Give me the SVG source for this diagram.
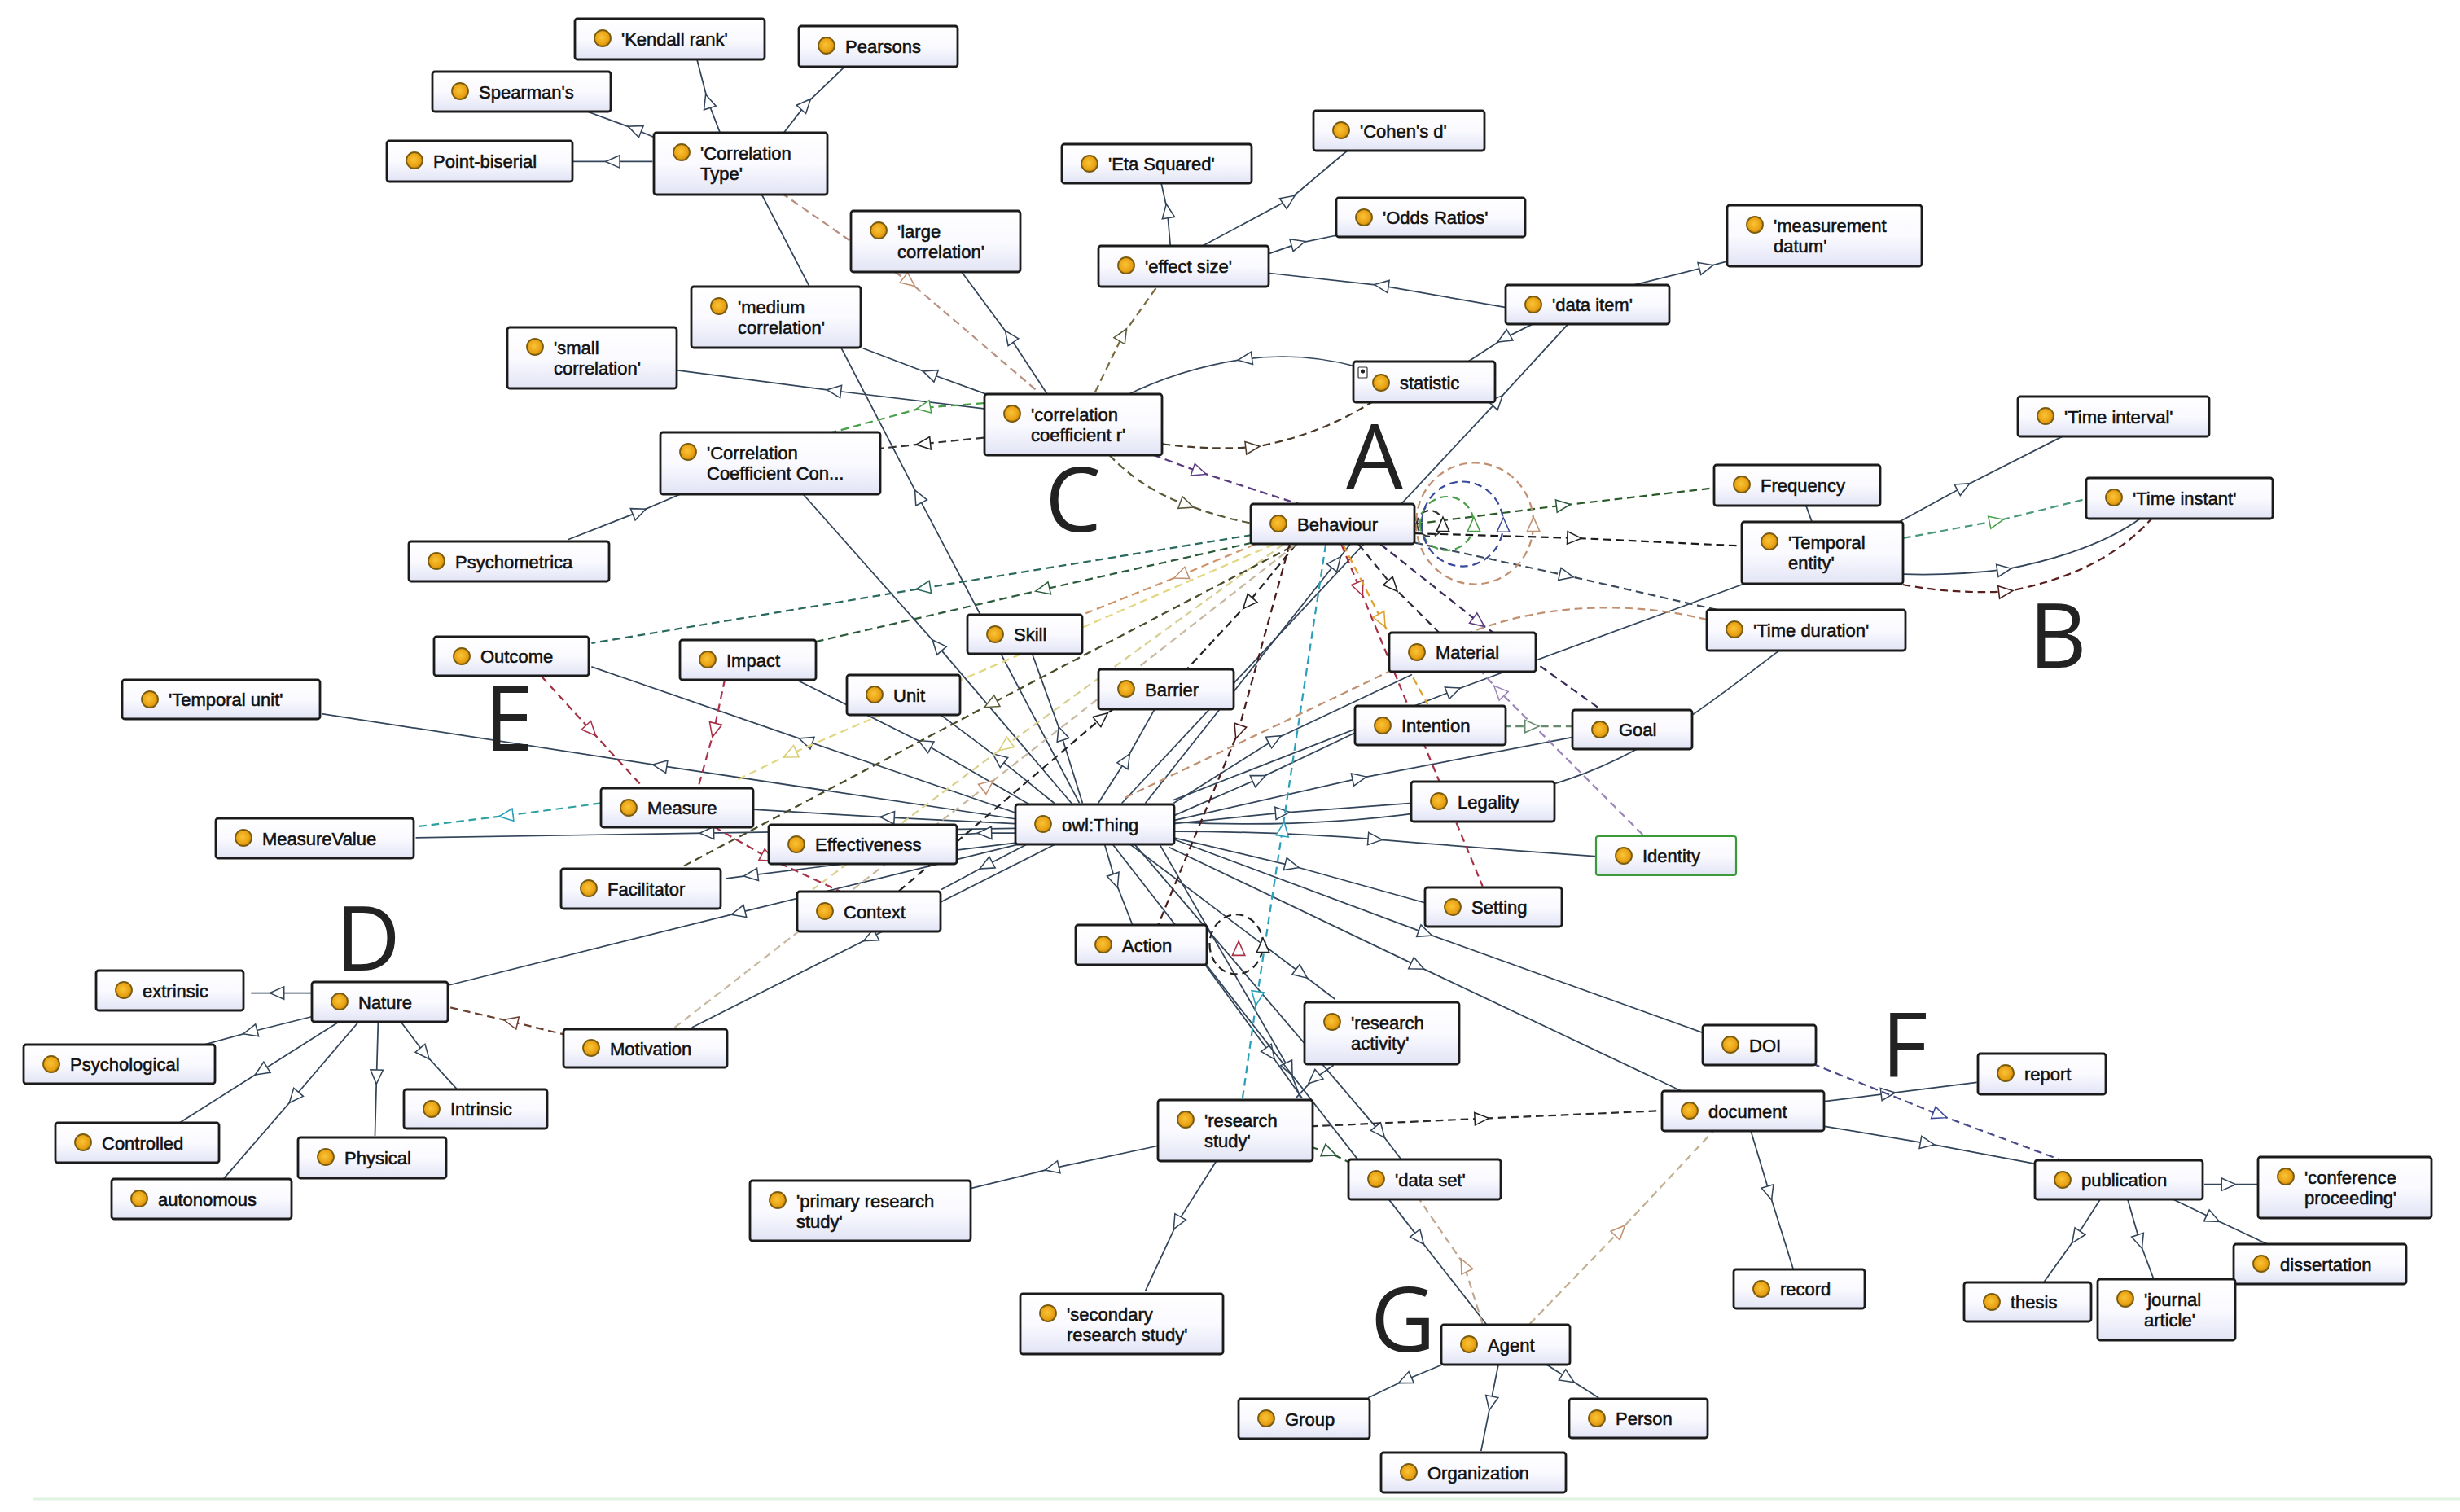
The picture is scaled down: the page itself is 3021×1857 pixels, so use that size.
<svg xmlns="http://www.w3.org/2000/svg" width="3021" height="1857" viewBox="0 0 3021 1857">
<defs>
<linearGradient id="bg" x1="0" y1="0" x2="0" y2="1"><stop offset="0" stop-color="#ffffff"/><stop offset="0.5" stop-color="#fafaff"/><stop offset="1" stop-color="#e2e4f5"/></linearGradient>
<radialGradient id="dot" cx="0.45" cy="0.45" r="0.6"><stop offset="0" stop-color="#f9c436"/><stop offset="0.7" stop-color="#e8a012"/><stop offset="1" stop-color="#b07a08"/></radialGradient>
<marker id="a-s" markerUnits="userSpaceOnUse" markerWidth="12" markerHeight="12" refX="5" refY="4" orient="auto" overflow="visible"><path d="M0,0 L9,4 L0,8 Z" fill="#fff" stroke="#33455a" stroke-width="0.8"/></marker>
<marker id="a-k" markerUnits="userSpaceOnUse" markerWidth="12" markerHeight="12" refX="5" refY="4" orient="auto" overflow="visible"><path d="M0,0 L9,4 L0,8 Z" fill="#fff" stroke="#222" stroke-width="0.8"/></marker>
<marker id="a-g" markerUnits="userSpaceOnUse" markerWidth="12" markerHeight="12" refX="5" refY="4" orient="auto" overflow="visible"><path d="M0,0 L9,4 L0,8 Z" fill="#fff" stroke="#2a5a3a" stroke-width="0.8"/></marker>
<marker id="a-t" markerUnits="userSpaceOnUse" markerWidth="12" markerHeight="12" refX="5" refY="4" orient="auto" overflow="visible"><path d="M0,0 L9,4 L0,8 Z" fill="#fff" stroke="#2a6a5e" stroke-width="0.8"/></marker>
<marker id="a-p" markerUnits="userSpaceOnUse" markerWidth="12" markerHeight="12" refX="5" refY="4" orient="auto" overflow="visible"><path d="M0,0 L9,4 L0,8 Z" fill="#fff" stroke="#5a3a80" stroke-width="0.8"/></marker>
<marker id="a-lp" markerUnits="userSpaceOnUse" markerWidth="12" markerHeight="12" refX="5" refY="4" orient="auto" overflow="visible"><path d="M0,0 L9,4 L0,8 Z" fill="#fff" stroke="#9a86b8" stroke-width="0.8"/></marker>
<marker id="a-b" markerUnits="userSpaceOnUse" markerWidth="12" markerHeight="12" refX="5" refY="4" orient="auto" overflow="visible"><path d="M0,0 L9,4 L0,8 Z" fill="#fff" stroke="#4a3a2a" stroke-width="0.8"/></marker>
<marker id="a-br" markerUnits="userSpaceOnUse" markerWidth="12" markerHeight="12" refX="5" refY="4" orient="auto" overflow="visible"><path d="M0,0 L9,4 L0,8 Z" fill="#fff" stroke="#6a4030" stroke-width="0.8"/></marker>
<marker id="a-tan" markerUnits="userSpaceOnUse" markerWidth="12" markerHeight="12" refX="5" refY="4" orient="auto" overflow="visible"><path d="M0,0 L9,4 L0,8 Z" fill="#fff" stroke="#c09070" stroke-width="0.8"/></marker>
<marker id="a-o" markerUnits="userSpaceOnUse" markerWidth="12" markerHeight="12" refX="5" refY="4" orient="auto" overflow="visible"><path d="M0,0 L9,4 L0,8 Z" fill="#fff" stroke="#e0a030" stroke-width="0.8"/></marker>
<marker id="a-r" markerUnits="userSpaceOnUse" markerWidth="12" markerHeight="12" refX="5" refY="4" orient="auto" overflow="visible"><path d="M0,0 L9,4 L0,8 Z" fill="#fff" stroke="#a83048" stroke-width="0.8"/></marker>
<marker id="a-y" markerUnits="userSpaceOnUse" markerWidth="12" markerHeight="12" refX="5" refY="4" orient="auto" overflow="visible"><path d="M0,0 L9,4 L0,8 Z" fill="#fff" stroke="#d8cc70" stroke-width="0.8"/></marker>
<marker id="a-c" markerUnits="userSpaceOnUse" markerWidth="12" markerHeight="12" refX="5" refY="4" orient="auto" overflow="visible"><path d="M0,0 L9,4 L0,8 Z" fill="#fff" stroke="#2aa0b8" stroke-width="0.8"/></marker>
<marker id="a-ol" markerUnits="userSpaceOnUse" markerWidth="12" markerHeight="12" refX="5" refY="4" orient="auto" overflow="visible"><path d="M0,0 L9,4 L0,8 Z" fill="#fff" stroke="#5a5a38" stroke-width="0.8"/></marker>
<marker id="a-gr" markerUnits="userSpaceOnUse" markerWidth="12" markerHeight="12" refX="5" refY="4" orient="auto" overflow="visible"><path d="M0,0 L9,4 L0,8 Z" fill="#fff" stroke="#4aa04a" stroke-width="0.8"/></marker>
<marker id="a-bl" markerUnits="userSpaceOnUse" markerWidth="12" markerHeight="12" refX="5" refY="4" orient="auto" overflow="visible"><path d="M0,0 L9,4 L0,8 Z" fill="#fff" stroke="#3a4a9a" stroke-width="0.8"/></marker>
<marker id="a-dr" markerUnits="userSpaceOnUse" markerWidth="12" markerHeight="12" refX="5" refY="4" orient="auto" overflow="visible"><path d="M0,0 L9,4 L0,8 Z" fill="#fff" stroke="#4a1c1c" stroke-width="0.8"/></marker>
<marker id="a-gg" markerUnits="userSpaceOnUse" markerWidth="12" markerHeight="12" refX="5" refY="4" orient="auto" overflow="visible"><path d="M0,0 L9,4 L0,8 Z" fill="#fff" stroke="#6a8a70" stroke-width="0.8"/></marker>
</defs>
<style>
.node rect{fill:url(#bg);stroke:#1b1b1b;stroke-width:2.8}
.node circle{fill:url(#dot);stroke:#7a5c10;stroke-width:1.8}
.node text{font-family:"Liberation Sans",Arial,sans-serif;font-size:22px;fill:#111;stroke:#111;stroke-width:0.55}
.s{fill:none;stroke:#33455a;stroke-width:0.9;marker-mid:url(#a-s)}
.s0{fill:none;stroke:#33455a;stroke-width:0.9}
.d{fill:none;stroke-width:1.15;stroke-dasharray:5 3}
.mk{fill:none;stroke:none}
.letter{font-family:"Open Sans","DejaVu Sans",sans-serif;font-size:110px;fill:#222;text-anchor:middle}
</style>
<rect width="3021" height="1857" fill="#ffffff"/>
<line x1="40" y1="1841" x2="3021" y2="1841" stroke="#e0f3e0" stroke-width="3"/>

<g id="connectors" transform="scale(1.9267)">
<path class="s" d="M461 90 L451 64 L444 37"/>
<path class="s" d="M497 88 L514 66 L540 41"/>
<path class="s" d="M418 88 L404 82 L374 71"/>
<path class="s" d="M416 103 L390 103 L364 103"/>
<path class="s" d="M688 512 L585 316 L485 123"/>
<path class="s" d="M683 512 L597 411 L511 314"/>
<path class="s" d="M628 251 L592 238 L550 222"/>
<path class="s" d="M640 262 L531 249 L431 236"/>
<path class="s" d="M668 252 L643 214 L612 172"/>
<path class="s" d="M866 234 Q830 224 793 229 Q752 235 716 253"/>
<path class="s" d="M730 512 L852 358 L862 345"/>
<path class="s" d="M715 512 L955 255 L1000 206"/>
<path class="s" d="M748 512 L813 471 L900 430"/>
<path class="s" d="M748 520 L803 496 L864 467"/>
<path class="s" d="M748 523 L867 496 L1002 470"/>
<path class="s" d="M748 510 L927 440 L1112 372"/>
<path class="s" d="M748 525 L818 518 L900 512"/>
<path class="s" d="M748 530 Q812 530 877 535 Q948 541 1018 546"/>
<path class="s" d="M748 534 L824 552 L910 576"/>
<path class="s" d="M700 512 L718 484 L736 452"/>
<path class="s" d="M690 512 L676 467 L658 417"/>
<path class="s" d="M672 512 L636 483 L600 456"/>
<path class="s" d="M660 515 L589 474 L509 434"/>
<path class="s" d="M647 518 L513 472 L377 425"/>
<path class="s" d="M647 522 L420 488 L205 455"/>
<path class="s" d="M647 525 L565 521 L480 516"/>
<path class="s" d="M647 528 L450 531 L265 534"/>
<path class="s" d="M650 531 L627 531 L610 532"/>
<path class="s" d="M650 537 L478 558 L463 560"/>
<path class="s" d="M655 538 L628 552 L600 567"/>
<path class="s" d="M650 538 L470 582 L286 628"/>
<path class="s" d="M673 538 L554 598 L441 655"/>
<path class="s" d="M704 538 L711 562 L722 590"/>
<path class="s" d="M720 538 L830 621 L851 637"/>
<path class="s" d="M739 538 L822 682 L829 700"/>
<path class="s" d="M766 612 L810 672 L830 700"/>
<path class="s" d="M850 679 L837 688 L826 700"/>
<path class="s" d="M723 538 L880 722 L893 739"/>
<path class="s" d="M709 538 L905 790 L948 845"/>
<path class="s" d="M748 535 L909 595 L1090 660"/>
<path class="s" d="M745 540 L904 616 L1075 697"/>
<path class="s" d="M740 730 L670 745 L617 758"/>
<path class="s" d="M776 739 L750 780 L730 823"/>
<path class="s" d="M746 157 L744 134 L740 116"/>
<path class="s" d="M766 157 L822 127 L860 95"/>
<path class="s" d="M808 162 L828 155 L852 150"/>
<path class="s" d="M960 196 L880 182 L808 174"/>
<path class="s" d="M1040 182 L1088 170 L1103 166"/>
<path class="s" d="M978 206 L958 216 L935 231"/>
<path class="s" d="M1210 333 L1252 310 L1315 278"/>
<path class="s" d="M1213 366 Q1245 367 1278 363 Q1335 352 1365 330"/>
<path class="s0" d="M1155 333 L1151 322"/>
<path class="s" d="M199 633 L176 633 L160 633"/>
<path class="s" d="M199 648 L159 658 L130 666"/>
<path class="s" d="M215 652 L166 683 L114 716"/>
<path class="s" d="M228 652 L187 700 L142 752"/>
<path class="s" d="M241 652 L240 687 L239 724"/>
<path class="s" d="M256 652 L271 672 L291 694"/>
<path class="s" d="M1163 702 L1204 697 L1260 690"/>
<path class="s" d="M1163 718 L1229 729 L1298 742"/>
<path class="s" d="M1116 721 L1128 761 L1143 809"/>
<path class="s" d="M1405 755 L1421 755 L1440 755"/>
<path class="s" d="M1339 764 L1323 789 L1303 817"/>
<path class="s" d="M1356 764 L1364 792 L1373 816"/>
<path class="s" d="M1384 764 L1411 777 L1445 793"/>
<path class="s" d="M919 870 L895 880 L872 891"/>
<path class="s" d="M955 870 L950 895 L944 925"/>
<path class="s" d="M986 870 L1000 879 L1019 891"/>
<path class="s" d="M362 344 L408 326 L436 314"/>
<path class="s0" d="M748 524 C870 530 960 512 1010 493 S1100 440 1135 414"/>
<path class="d" stroke="#b89080" marker-mid="url(#a-tan)" d="M498 123 L580 180 L662 250"/>
<path class="d" stroke="#7a6a40" marker-mid="url(#a-ol)" d="M698 250 L716 213 L738 182"/>
<path class="d" stroke="#4a3a2a" marker-mid="url(#a-b)" d="M741 283 Q770 287 799 285 Q840 278 875 256"/>
<path class="d" stroke="#5a3a80" marker-mid="url(#a-p)" d="M735 290 L765 301 L830 322"/>
<path class="d" stroke="#5a5a38" marker-mid="url(#a-ol)" d="M707 290 Q728 312 757 322 Q778 330 800 334"/>
<path class="d" stroke="#333333" marker-mid="url(#a-k)" d="M627 279 L588 283 L560 286"/>
<path class="d" stroke="#4aa04a" marker-mid="url(#a-gr)" d="M627 257 L588 260 L529 276"/>
<path class="d" stroke="#2a6a5e" marker-mid="url(#a-t)" d="M798 341 L588 375 L377 410"/>
<path class="d" stroke="#2a5a3a" marker-mid="url(#a-g)" d="M798 346 L664 376 L520 409"/>
<path class="d" stroke="#d0946a" marker-mid="url(#a-tan)" d="M800 347 L752 367 L692 391"/>
<path class="d" stroke="#e2d680" marker-mid="url(#a-y)" d="M812 347 L503 481 L470 497"/>
<path class="d" stroke="#d8d090" marker-mid="url(#a-y)" d="M818 347 L640 476 L518 567"/>
<path class="d" stroke="#4a4a28" marker-mid="url(#a-ol)" d="M830 345 L631 449 L434 553"/>
<path class="d" stroke="#222222" marker-mid="url(#a-k)" d="M573 568 L703 457 L712 450"/>
<path class="d" stroke="#222222" marker-mid="url(#a-k)" d="M826 347 L795 385 L757 426"/>
<path class="d" stroke="#4a1c1c" marker-mid="url(#a-dr)" d="M822 347 L789 467 L738 590"/>
<path class="d" stroke="#c8b8a0" marker-mid="url(#a-tan)" d="M430 655 L630 500 L826 347"/>
<path class="d" stroke="#2aa0b8" marker-mid="url(#a-c)" d="M845 347 L801 637 L792 700"/>
<path class="mk" marker-mid="url(#a-c)" d="M792 700 L818 528 L845 347"/>
<path class="d" stroke="#a83048" marker-mid="url(#a-r)" d="M855 347 L867 376 L945 565"/>
<path class="d" stroke="#e0a030" marker-mid="url(#a-o)" d="M856 347 L881 396 L910 449"/>
<path class="d" stroke="#2a2a3a" marker-mid="url(#a-k)" d="M866 347 L888 374 L917 403"/>
<path class="d" stroke="#3a2a5a" marker-mid="url(#a-p)" d="M880 347 L943 397 L1020 452"/>
<path class="d" stroke="#9a86b8" marker-mid="url(#a-lp)" d="M1047 532 L955 440 L945 429"/>
<path class="d" stroke="#6a8a70" marker-mid="url(#a-gg)" d="M958 463 L977 463 L1002 463"/>
<path class="d" stroke="#2a5a2a" marker-mid="url(#a-g)" d="M902 334 L997 322 L1093 311"/>
<path class="d" stroke="#1a1a1a" marker-mid="url(#a-k)" d="M902 340 L1004 343 L1110 348"/>
<path class="d" stroke="#3a4a5a" marker-mid="url(#a-s)" d="M902 346 L999 367 L1100 390"/>
<path class="d" stroke="#4a9a7a" marker-mid="url(#a-gr)" d="M1213 343 L1273 332 L1330 318"/>
<path class="d" stroke="#5a2020" marker-mid="url(#a-dr)" d="M1205 371 Q1240 379 1279 377 Q1340 366 1372 330"/>
<path class="d" stroke="#c09070" d="M1088 395 C1040 383 985 385 940 402 L716 509"/>
<path class="d" stroke="#a03040" marker-mid="url(#a-r)" d="M345 431 L377 466 L410 502"/>
<path class="d" stroke="#b03050" marker-mid="url(#a-r)" d="M462 433 L455 466 L445 502"/>
<path class="d" stroke="#2aa0a0" marker-mid="url(#a-c)" d="M383 512 L322 520 L265 527"/>
<path class="d" stroke="#a83048" marker-mid="url(#a-r)" d="M455 527 L490 547 L535 568"/>
<path class="d" stroke="#6a4030" marker-mid="url(#a-br)" d="M362 660 L325 651 L286 642"/>
<path class="d" stroke="#2a2a2a" marker-mid="url(#a-k)" d="M835 718 L945 713 L1059 708"/>
<path class="d" stroke="#2a5a2a" marker-mid="url(#a-g)" d="M835 731 L848 735 L862 742"/>
<path class="d" stroke="#4a4a8a" marker-mid="url(#a-bl)" d="M1155 678 L1237 711 L1315 740"/>
<path class="d" stroke="#c0b090" marker-mid="url(#a-tan)" d="M975 844 L1033 784 L1092 721"/>
<path class="d" stroke="#c0a890" marker-mid="url(#a-tan)" d="M945 844 L933 806 L905 765"/>
<path class="d" stroke="#333333" marker-mid="url(#a-k)" d="M903.1 333.7 A8.3 8.3 0 0 0 919.7 333.7 A8.3 8.3 0 0 0 903.1 333.7"/>
<path class="d" stroke="#4aa04a" marker-mid="url(#a-gr)" d="M905.2 333.7 A17.1 17.1 0 0 0 939.4 333.7 A17.1 17.1 0 0 0 905.2 333.7"/>
<path class="d" stroke="#3a4a9a" marker-mid="url(#a-bl)" d="M906.2 334 A26 27 0 0 0 958.2 334 A26 27 0 0 0 906.2 334"/>
<path class="d" stroke="#c09070" marker-mid="url(#a-tan)" d="M902.6 333.7 A37.4 38.7 0 0 0 977.4 333.7 A37.4 38.7 0 0 0 902.6 333.7"/>
<path class="d" stroke="#222222" marker-mid="url(#a-k)" d="M771 602 A17 19 0 0 0 805 602 A17 19 0 0 0 771 602"/>
<path class="mk" marker-mid="url(#a-r)" d="M789.5 612 L789.5 604 L789.5 596"/>
</g>

<g id="nodes">
<g id="n-kendall" class="node" transform="translate(706,23)"><rect width="233" height="50" rx="3"/><circle cx="34" cy="24" r="10"/><text x="57" y="33">'Kendall rank'</text></g>
<g id="n-pearsons" class="node" transform="translate(981,32)"><rect width="195" height="50" rx="3"/><circle cx="34" cy="24" r="10"/><text x="57" y="33">Pearsons</text></g>
<g id="n-spearman" class="node" transform="translate(531,88)"><rect width="219" height="49" rx="3"/><circle cx="34" cy="24" r="10"/><text x="57" y="33">Spearman's</text></g>
<g id="n-pointbiserial" class="node" transform="translate(475,173)"><rect width="228" height="50" rx="3"/><circle cx="34" cy="24" r="10"/><text x="57" y="33">Point-biserial</text></g>
<g id="n-corrtype" class="node" transform="translate(803,163)"><rect width="213" height="76" rx="3"/><circle cx="34" cy="24" r="10"/><text x="57" y="33">'Correlation<tspan x="57" dy="25">Type'</tspan></text></g>
<g id="n-large" class="node" transform="translate(1045,259)"><rect width="208" height="75" rx="3"/><circle cx="34" cy="24" r="10"/><text x="57" y="33">'large<tspan x="57" dy="25">correlation'</tspan></text></g>
<g id="n-medium" class="node" transform="translate(849,352)"><rect width="208" height="75" rx="3"/><circle cx="34" cy="24" r="10"/><text x="57" y="33">'medium<tspan x="57" dy="25">correlation'</tspan></text></g>
<g id="n-small" class="node" transform="translate(623,402)"><rect width="208" height="75" rx="3"/><circle cx="34" cy="24" r="10"/><text x="57" y="33">'small<tspan x="57" dy="25">correlation'</tspan></text></g>
<g id="n-eta" class="node" transform="translate(1304,177)"><rect width="233" height="48" rx="3"/><circle cx="34" cy="24" r="10"/><text x="57" y="32">'Eta Squared'</text></g>
<g id="n-cohen" class="node" transform="translate(1613,136)"><rect width="210" height="49" rx="3"/><circle cx="34" cy="24" r="10"/><text x="57" y="33">'Cohen's d'</text></g>
<g id="n-odds" class="node" transform="translate(1641,243)"><rect width="232" height="48" rx="3"/><circle cx="34" cy="24" r="10"/><text x="57" y="32">'Odds Ratios'</text></g>
<g id="n-effect" class="node" transform="translate(1349,302)"><rect width="209" height="50" rx="3"/><circle cx="34" cy="24" r="10"/><text x="57" y="33">'effect size'</text></g>
<g id="n-measdatum" class="node" transform="translate(2121,252)"><rect width="239" height="75" rx="3"/><circle cx="34" cy="24" r="10"/><text x="57" y="33">'measurement<tspan x="57" dy="25">datum'</tspan></text></g>
<g id="n-dataitem" class="node" transform="translate(1849,350)"><rect width="201" height="48" rx="3"/><circle cx="34" cy="24" r="10"/><text x="57" y="32">'data item'</text></g>
<g id="n-statistic" class="node" transform="translate(1662,444)"><rect width="174" height="50" rx="3"/><rect x="6" y="7" width="11" height="13" rx="1" style="fill:#fff;stroke:#333;stroke-width:1.2"/><circle cx="11.5" cy="12" r="2.6" style="fill:#222;stroke:none"/><circle cx="34" cy="26" r="10"/><text x="57" y="34">statistic</text></g>
<g id="n-corrcoef" class="node" transform="translate(1209,484)"><rect width="218" height="75" rx="3"/><circle cx="34" cy="24" r="10"/><text x="57" y="33">'correlation<tspan x="57" dy="25">coefficient r'</tspan></text></g>
<g id="n-corrcon" class="node" transform="translate(811,531)"><rect width="270" height="76" rx="3"/><circle cx="34" cy="24" r="10"/><text x="57" y="33">'Correlation<tspan x="57" dy="25">Coefficient Con...</tspan></text></g>
<g id="n-psychometrica" class="node" transform="translate(502,665)"><rect width="246" height="49" rx="3"/><circle cx="34" cy="24" r="10"/><text x="57" y="33">Psychometrica</text></g>
<g id="n-behaviour" class="node" transform="translate(1536,619)"><rect width="201" height="49" rx="3"/><circle cx="34" cy="24" r="10"/><text x="57" y="33">Behaviour</text></g>
<g id="n-timeinterval" class="node" transform="translate(2478,487)"><rect width="235" height="49" rx="3"/><circle cx="34" cy="24" r="10"/><text x="57" y="33">'Time interval'</text></g>
<g id="n-frequency" class="node" transform="translate(2105,571)"><rect width="204" height="50" rx="3"/><circle cx="34" cy="24" r="10"/><text x="57" y="33">Frequency</text></g>
<g id="n-timeinstant" class="node" transform="translate(2562,587)"><rect width="229" height="50" rx="3"/><circle cx="34" cy="24" r="10"/><text x="57" y="33">'Time instant'</text></g>
<g id="n-temporalentity" class="node" transform="translate(2139,641)"><rect width="198" height="76" rx="3"/><circle cx="34" cy="24" r="10"/><text x="57" y="33">'Temporal<tspan x="57" dy="25">entity'</tspan></text></g>
<g id="n-timeduration" class="node" transform="translate(2096,749)"><rect width="244" height="50" rx="3"/><circle cx="34" cy="24" r="10"/><text x="57" y="33">'Time duration'</text></g>
<g id="n-outcome" class="node" transform="translate(533,782)"><rect width="190" height="48" rx="3"/><circle cx="34" cy="24" r="10"/><text x="57" y="32">Outcome</text></g>
<g id="n-impact" class="node" transform="translate(835,786)"><rect width="167" height="49" rx="3"/><circle cx="34" cy="24" r="10"/><text x="57" y="33">Impact</text></g>
<g id="n-skill" class="node" transform="translate(1188,755)"><rect width="141" height="48" rx="3"/><circle cx="34" cy="24" r="10"/><text x="57" y="32">Skill</text></g>
<g id="n-unit" class="node" transform="translate(1040,829)"><rect width="139" height="49" rx="3"/><circle cx="34" cy="24" r="10"/><text x="57" y="33">Unit</text></g>
<g id="n-temporalunit" class="node" transform="translate(150,835)"><rect width="243" height="48" rx="3"/><circle cx="34" cy="24" r="10"/><text x="57" y="32">'Temporal unit'</text></g>
<g id="n-barrier" class="node" transform="translate(1349,822)"><rect width="166" height="49" rx="3"/><circle cx="34" cy="24" r="10"/><text x="57" y="33">Barrier</text></g>
<g id="n-material" class="node" transform="translate(1706,777)"><rect width="180" height="48" rx="3"/><circle cx="34" cy="24" r="10"/><text x="57" y="32">Material</text></g>
<g id="n-intention" class="node" transform="translate(1664,867)"><rect width="185" height="48" rx="3"/><circle cx="34" cy="24" r="10"/><text x="57" y="32">Intention</text></g>
<g id="n-goal" class="node" transform="translate(1931,872)"><rect width="147" height="48" rx="3"/><circle cx="34" cy="24" r="10"/><text x="57" y="32">Goal</text></g>
<g id="n-legality" class="node" transform="translate(1733,960)"><rect width="176" height="49" rx="3"/><circle cx="34" cy="24" r="10"/><text x="57" y="33">Legality</text></g>
<g id="n-identity" class="node" transform="translate(1960,1027)"><rect width="172" height="48" rx="3" style="stroke:#3a9a3a;stroke-width:2.2"/><circle cx="34" cy="24" r="10"/><text x="57" y="32">Identity</text></g>
<g id="n-measure" class="node" transform="translate(738,968)"><rect width="187" height="48" rx="3"/><circle cx="34" cy="24" r="10"/><text x="57" y="32">Measure</text></g>
<g id="n-measurevalue" class="node" transform="translate(265,1005)"><rect width="243" height="49" rx="3"/><circle cx="34" cy="24" r="10"/><text x="57" y="33">MeasureValue</text></g>
<g id="n-effectiveness" class="node" transform="translate(944,1013)"><rect width="231" height="48" rx="3"/><circle cx="34" cy="24" r="10"/><text x="57" y="32">Effectiveness</text></g>
<g id="n-owlthing" class="node" transform="translate(1247,988)"><rect width="195" height="49" rx="3"/><circle cx="34" cy="24" r="10"/><text x="57" y="33">owl:Thing</text></g>
<g id="n-facilitator" class="node" transform="translate(689,1067)"><rect width="196" height="49" rx="3"/><circle cx="34" cy="24" r="10"/><text x="57" y="33">Facilitator</text></g>
<g id="n-context" class="node" transform="translate(979,1095)"><rect width="176" height="49" rx="3"/><circle cx="34" cy="24" r="10"/><text x="57" y="33">Context</text></g>
<g id="n-setting" class="node" transform="translate(1750,1090)"><rect width="168" height="48" rx="3"/><circle cx="34" cy="24" r="10"/><text x="57" y="32">Setting</text></g>
<g id="n-action" class="node" transform="translate(1321,1136)"><rect width="161" height="49" rx="3"/><circle cx="34" cy="24" r="10"/><text x="57" y="33">Action</text></g>
<g id="n-nature" class="node" transform="translate(383,1206)"><rect width="167" height="49" rx="3"/><circle cx="34" cy="24" r="10"/><text x="57" y="33">Nature</text></g>
<g id="n-extrinsic" class="node" transform="translate(118,1192)"><rect width="181" height="49" rx="3"/><circle cx="34" cy="24" r="10"/><text x="57" y="33">extrinsic</text></g>
<g id="n-psychological" class="node" transform="translate(29,1283)"><rect width="235" height="48" rx="3"/><circle cx="34" cy="24" r="10"/><text x="57" y="32">Psychological</text></g>
<g id="n-motivation" class="node" transform="translate(692,1264)"><rect width="201" height="47" rx="3"/><circle cx="34" cy="23" r="10"/><text x="57" y="32">Motivation</text></g>
<g id="n-intrinsic" class="node" transform="translate(496,1338)"><rect width="176" height="48" rx="3"/><circle cx="34" cy="24" r="10"/><text x="57" y="32">Intrinsic</text></g>
<g id="n-controlled" class="node" transform="translate(68,1379)"><rect width="201" height="49" rx="3"/><circle cx="34" cy="24" r="10"/><text x="57" y="33">Controlled</text></g>
<g id="n-physical" class="node" transform="translate(366,1397)"><rect width="182" height="50" rx="3"/><circle cx="34" cy="24" r="10"/><text x="57" y="33">Physical</text></g>
<g id="n-autonomous" class="node" transform="translate(137,1448)"><rect width="221" height="49" rx="3"/><circle cx="34" cy="24" r="10"/><text x="57" y="33">autonomous</text></g>
<g id="n-researchactivity" class="node" transform="translate(1602,1231)"><rect width="190" height="76" rx="3"/><circle cx="34" cy="24" r="10"/><text x="57" y="33">'research<tspan x="57" dy="25">activity'</tspan></text></g>
<g id="n-doi" class="node" transform="translate(2091,1259)"><rect width="139" height="49" rx="3"/><circle cx="34" cy="24" r="10"/><text x="57" y="33">DOI</text></g>
<g id="n-report" class="node" transform="translate(2429,1294)"><rect width="157" height="50" rx="3"/><circle cx="34" cy="24" r="10"/><text x="57" y="33">report</text></g>
<g id="n-document" class="node" transform="translate(2041,1340)"><rect width="199" height="49" rx="3"/><circle cx="34" cy="24" r="10"/><text x="57" y="33">document</text></g>
<g id="n-researchstudy" class="node" transform="translate(1422,1351)"><rect width="190" height="75" rx="3"/><circle cx="34" cy="24" r="10"/><text x="57" y="33">'research<tspan x="57" dy="25">study'</tspan></text></g>
<g id="n-dataset" class="node" transform="translate(1656,1424)"><rect width="187" height="49" rx="3"/><circle cx="34" cy="24" r="10"/><text x="57" y="33">'data set'</text></g>
<g id="n-primary" class="node" transform="translate(921,1450)"><rect width="271" height="74" rx="3"/><circle cx="34" cy="24" r="10"/><text x="57" y="33">'primary research<tspan x="57" dy="25">study'</tspan></text></g>
<g id="n-publication" class="node" transform="translate(2499,1425)"><rect width="206" height="48" rx="3"/><circle cx="34" cy="24" r="10"/><text x="57" y="32">publication</text></g>
<g id="n-conference" class="node" transform="translate(2773,1421)"><rect width="213" height="75" rx="3"/><circle cx="34" cy="24" r="10"/><text x="57" y="33">'conference<tspan x="57" dy="25">proceeding'</tspan></text></g>
<g id="n-dissertation" class="node" transform="translate(2743,1528)"><rect width="212" height="49" rx="3"/><circle cx="34" cy="24" r="10"/><text x="57" y="33">dissertation</text></g>
<g id="n-thesis" class="node" transform="translate(2412,1575)"><rect width="156" height="48" rx="3"/><circle cx="34" cy="24" r="10"/><text x="57" y="32">thesis</text></g>
<g id="n-journal" class="node" transform="translate(2576,1571)"><rect width="169" height="75" rx="3"/><circle cx="34" cy="24" r="10"/><text x="57" y="33">'journal<tspan x="57" dy="25">article'</tspan></text></g>
<g id="n-record" class="node" transform="translate(2129,1559)"><rect width="161" height="48" rx="3"/><circle cx="34" cy="24" r="10"/><text x="57" y="32">record</text></g>
<g id="n-secondary" class="node" transform="translate(1253,1589)"><rect width="249" height="74" rx="3"/><circle cx="34" cy="24" r="10"/><text x="57" y="33">'secondary<tspan x="57" dy="25">research study'</tspan></text></g>
<g id="n-agent" class="node" transform="translate(1770,1627)"><rect width="158" height="49" rx="3"/><circle cx="34" cy="24" r="10"/><text x="57" y="33">Agent</text></g>
<g id="n-group" class="node" transform="translate(1521,1718)"><rect width="161" height="49" rx="3"/><circle cx="34" cy="24" r="10"/><text x="57" y="33">Group</text></g>
<g id="n-person" class="node" transform="translate(1927,1718)"><rect width="170" height="48" rx="3"/><circle cx="34" cy="24" r="10"/><text x="57" y="32">Person</text></g>
<g id="n-organization" class="node" transform="translate(1696,1784)"><rect width="227" height="49" rx="3"/><circle cx="34" cy="24" r="10"/><text x="57" y="33">Organization</text></g>
</g>

<g id="labels">
<text class="letter" x="1688" y="600">A</text>
<text class="letter" x="2527" y="820">B</text>
<text class="letter" x="1318" y="653">C</text>
<text class="letter" x="452" y="1192">D</text>
<text class="letter" x="625" y="922">E</text>
<text class="letter" x="2339" y="1323">F</text>
<text class="letter" x="1723" y="1660">G</text>
</g>
</svg>
